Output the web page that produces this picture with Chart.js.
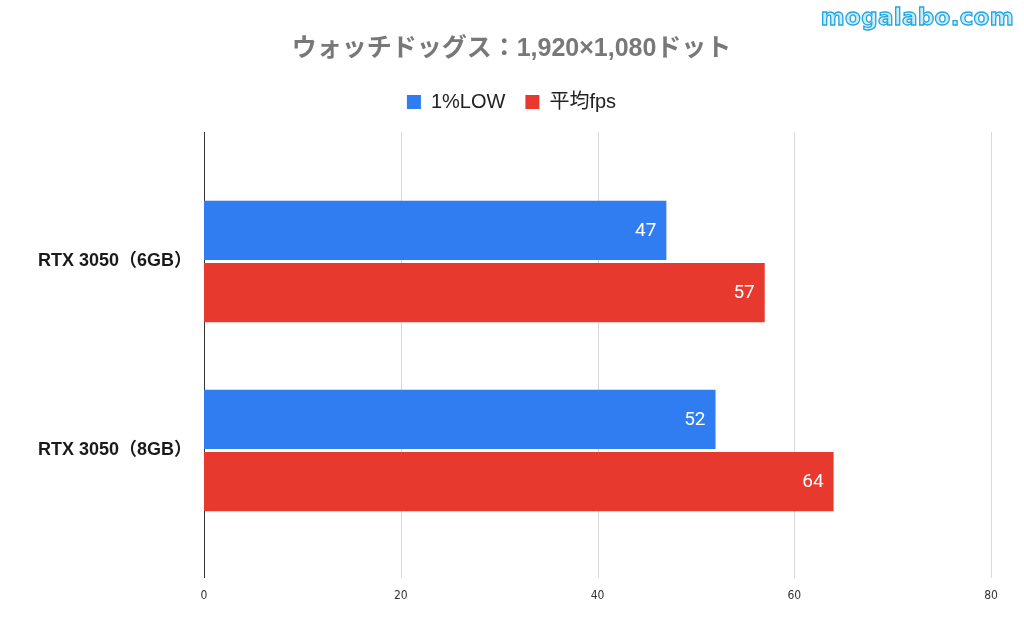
<!DOCTYPE html>
<html>
<head>
<meta charset="utf-8">
<script src="https://cdn.jsdelivr.net/npm/chart.js@4/dist/chart.umd.min.js"></script>
<style>
  html, body { margin: 0; padding: 0; background: #fff; }
  #wrap { position: relative; width: 1024px; height: 634px; }
  #mark {
    position: absolute; right: 10px; top: 4px;
    font: bold 23px "DejaVu Sans", sans-serif; letter-spacing: 0.3px;
    color: #c8ecfb; -webkit-text-stroke: 1.3px #22a6e2;
  }
</style>
</head>
<body>
<div id="wrap">
  <canvas id="c" width="1024" height="634"></canvas>
  <div id="mark">mogalabo.com</div>
</div>
<script>
// ─── data
const chartTitle = 'ウォッチドッグス：1,920×1,080ドット';
const gpuLabels = ['RTX 3050（6GB）', 'RTX 3050（8GB）'];
const lowFps = [47, 52];
const avgFps = [57, 64];
const xTicks = [0, 20, 40, 60, 80];

const JP = '"Liberation Sans", "Noto Sans CJK JP", sans-serif';

// full-height gridlines + dark zero axis
const gridPlugin = {
  id: 'fullGrid',
  beforeUpdate(chart) {
    // leave room between legend and plot
    const lg = chart.legend;
    if (lg && !lg._padded) {
      const fit = lg.fit;
      lg.fit = function () { fit.call(this); this.height += 45; };
      lg._padded = true;
    }
  },
  beforeDatasetsDraw(chart) {
    const { ctx, scales: { x } } = chart;
    ctx.save();
    xTicks.forEach(v => {
      const px = Math.round(x.getPixelForValue(v)) + 0.5;
      ctx.strokeStyle = v === 0 ? '#333' : '#d9d9d9';
      ctx.lineWidth = 1;
      ctx.beginPath();
      ctx.moveTo(px, 132);
      ctx.lineTo(px, 578);
      ctx.stroke();
    });
    ctx.restore();
  }
};

// value labels inside bar ends
const valuePlugin = {
  id: 'values',
  afterDatasetsDraw(chart) {
    const { ctx } = chart;
    ctx.save();
    ctx.font = '19px Roboto, sans-serif';
    ctx.fillStyle = '#fff';
    ctx.textAlign = 'right';
    ctx.textBaseline = 'middle';
    chart.data.datasets.forEach((ds, i) => {
      chart.getDatasetMeta(i).data.forEach((bar, j) => {
        ctx.fillText(String(ds.data[j]), bar.x - 10, bar.y + 1);
      });
    });
    ctx.restore();
  }
};

new Chart(document.getElementById('c'), {
  type: 'bar',
  data: {
    labels: gpuLabels,
    datasets: [
      { label: '1%LOW', data: lowFps, backgroundColor: '#2f7df0' },
      { label: '平均fps', data: avgFps, backgroundColor: '#e8392f' }
    ]
  },
  options: {
    indexAxis: 'y',
    responsive: false,
    animation: false,
    layout: { padding: { top: 20, right: 33, left: 32, bottom: 0 } },
    datasets: { bar: { categoryPercentage: 0.66, barPercentage: 0.95 } },
    plugins: {
      title: {
        display: true, text: chartTitle, color: '#787878',
        font: { family: JP, size: 25, weight: 'bold' },
        padding: { top: 14, bottom: 8 }
      },
      legend: {
        labels: {
          boxWidth: 14, boxHeight: 14, color: '#222', padding: 20,
          font: { family: JP, size: 20 }
        }
      },
      tooltip: { enabled: false }
    },
    scales: {
      x: {
        min: 0, max: 80,
        afterBuildTicks: s => { s.ticks = xTicks.map(v => ({ value: v })); },
        afterFit: s => { s.height = 89; },
        grid: { display: false, drawTicks: true, tickLength: 44 },
        border: { display: false },
        ticks: { color: '#333', padding: 0, font: { family: '"DejaVu Sans Condensed", sans-serif', size: 12 } }
      },
      y: {
        afterFit: s => { s.width = 172; },
        grid: { display: false },
        border: { display: false },
        ticks: { color: '#1a1a1a', padding: 4, font: { family: JP, size: 18, weight: 'bold' } }
      }
    }
  },
  plugins: [gridPlugin, valuePlugin]
});
</script>
</body>
</html>
